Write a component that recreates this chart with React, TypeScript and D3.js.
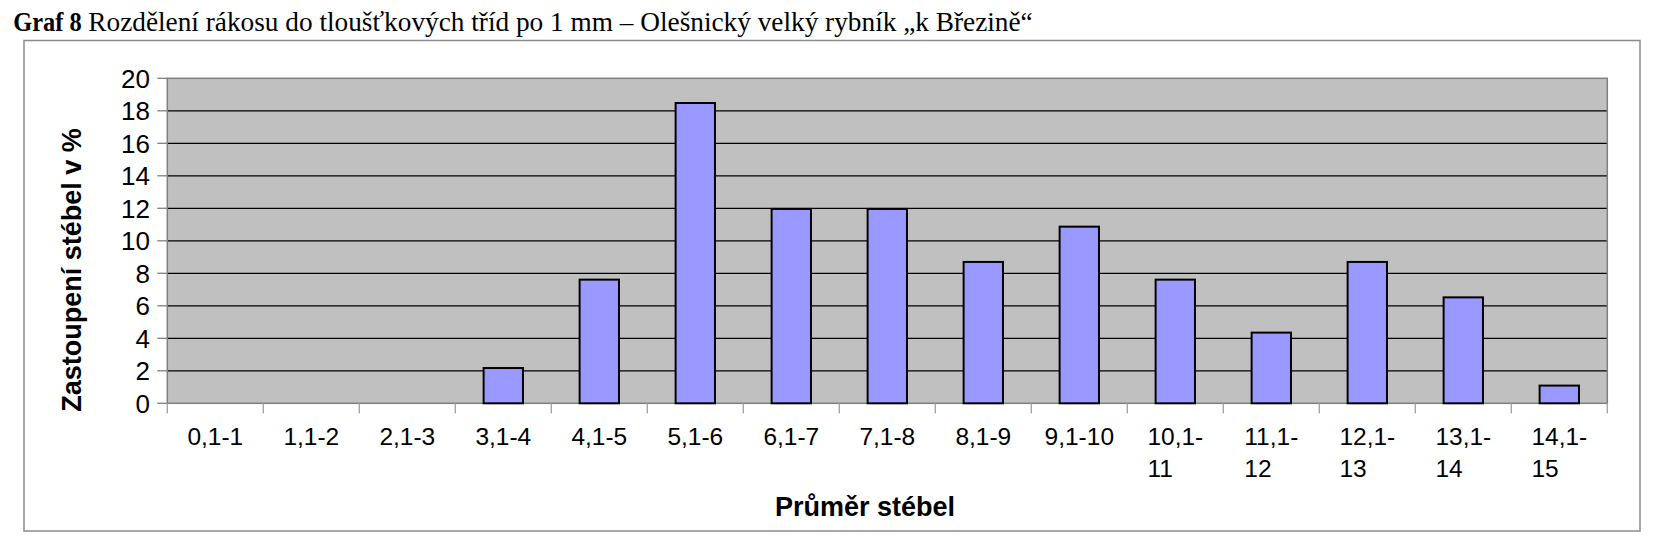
import React, { useEffect, useRef } from "react";
import * as d3 from "d3";

const categories = [
  "0,1-1", "1,1-2", "2,1-3", "3,1-4", "4,1-5", "5,1-6", "6,1-7", "7,1-8",
  "8,1-9", "9,1-10", "10,1-11", "11,1-12", "12,1-13", "13,1-14", "14,1-15",
];
const labelLines = [
  ["0,1-1"], ["1,1-2"], ["2,1-3"], ["3,1-4"], ["4,1-5"], ["5,1-6"], ["6,1-7"], ["7,1-8"],
  ["8,1-9"], ["9,1-10"], ["10,1-", "11"], ["11,1-", "12"], ["12,1-", "13"], ["13,1-", "14"], ["14,1-", "15"],
];
const values = [0, 0, 0, 2.17, 7.61, 18.48, 11.96, 11.96, 8.7, 10.87, 7.61, 4.35, 8.7, 6.52, 1.09];
const yTicks = [0, 2, 4, 6, 8, 10, 12, 14, 16, 18, 20];

const titleBold = "Graf 8";
const titleRest = "Rozdělení rákosu do tloušťkových tříd po 1 mm – Olešnický velký rybník „k Březině“";
const yTitle = "Zastoupení stébel v %";
const xTitle = "Průměr stébel";

const W = 1668, H = 551;
const PL = 167.3, PR = 1607.3, PT = 78.3, PB = 403.3;

export default function App() {
  const ref = useRef<SVGSVGElement>(null);
  useEffect(() => {
    const svg = d3.select(ref.current);
    svg.selectAll("*").remove();

    const x = d3.scaleBand<string>().domain(categories).range([PL, PR]).padding(0);
    const y = d3.scaleLinear().domain([0, 20]).range([PB, PT]);
    const bw = x.bandwidth();

    // outer frame
    svg.append("rect").attr("x", 24).attr("y", 40.5).attr("width", 1616).attr("height", 490.5)
      .attr("fill", "none").attr("stroke", "#8c8c8c").attr("stroke-width", 1.5);

    // title
    svg.append("text").attr("x", 13.3).attr("y", 30.5)
      .attr("font-family", "'Liberation Serif', 'Times New Roman', serif")
      .attr("font-size", 26.5).attr("font-weight", "bold")
      .attr("textLength", 68.4).attr("lengthAdjust", "spacingAndGlyphs")
      .text(titleBold);
    svg.append("text").attr("x", 88.3).attr("y", 30.5)
      .attr("font-family", "'Liberation Serif', 'Times New Roman', serif")
      .attr("font-size", 26.5)
      .attr("textLength", 944.4).attr("lengthAdjust", "spacingAndGlyphs")
      .text(titleRest);

    // plot background
    svg.append("rect").attr("x", PL).attr("y", PT).attr("width", PR - PL).attr("height", PB - PT)
      .attr("fill", "#c0c0c0");

    // gridlines
    svg.append("g").selectAll("line").data(yTicks.filter(t => t > 0 && t < 20)).join("line")
      .attr("x1", PL).attr("x2", PR).attr("y1", d => y(d)).attr("y2", d => y(d))
      .attr("stroke", "#000").attr("stroke-width", 1.3);

    // plot border
    svg.append("rect").attr("x", PL).attr("y", PT).attr("width", PR - PL).attr("height", PB - PT)
      .attr("fill", "none").attr("stroke", "#808080").attr("stroke-width", 1.5);

    // bars
    svg.append("g").selectAll("rect").data(values.map((v, i) => ({ v, c: categories[i] })).filter(d => d.v > 0))
      .join("rect")
      .attr("x", d => (x(d.c) as number) + bw * 0.295)
      .attr("width", bw * 0.41)
      .attr("y", d => y(d.v))
      .attr("height", d => y(0) - y(d.v))
      .attr("fill", "#9999ff").attr("stroke", "#000").attr("stroke-width", 2);

    // y ticks
    const yg = svg.append("g");
    yg.selectAll("line").data(yTicks).join("line")
      .attr("x1", PL - 10).attr("x2", PL).attr("y1", d => y(d)).attr("y2", d => y(d))
      .attr("stroke", "#808080").attr("stroke-width", 1.3);
    yg.selectAll("text").data(yTicks).join("text")
      .attr("x", 150).attr("y", d => y(d) + 9.2)
      .attr("text-anchor", "end")
      .attr("font-family", "'Liberation Sans', Arial, sans-serif").attr("font-size", 26)
      .text(d => String(d));

    // x ticks
    const bounds = categories.map(c => x(c) as number).concat([PR]);
    svg.append("g").selectAll("line").data(bounds).join("line")
      .attr("x1", d => d).attr("x2", d => d).attr("y1", PB).attr("y2", PB + 10)
      .attr("stroke", "#a0a0a0").attr("stroke-width", 1.3);

    // x labels
    const xl = svg.append("g")
      .attr("font-family", "'Liberation Sans', Arial, sans-serif").attr("font-size", 24.5);
    labelLines.forEach((lines, i) => {
      const cx = (x(categories[i]) as number) + bw / 2;
      const t1 = xl.append("text").attr("x", cx).attr("y", 445).attr("text-anchor", "middle").text(lines[0]);
      if (lines.length > 1) {
        const w = (t1.node() as SVGTextElement).getComputedTextLength();
        xl.append("text").attr("x", cx - w / 2).attr("y", 476.7).attr("text-anchor", "start").text(lines[1]);
      }
    });

    // axis titles
    svg.append("text").attr("x", 865).attr("y", 516).attr("text-anchor", "middle")
      .attr("font-family", "'Liberation Sans', Arial, sans-serif").attr("font-size", 27).attr("font-weight", "bold")
      .text(xTitle);
    svg.append("text").attr("transform", "translate(81,270) rotate(-90)").attr("text-anchor", "middle")
      .attr("font-family", "'Liberation Sans', Arial, sans-serif").attr("font-size", 27).attr("font-weight", "bold")
      .text(yTitle);
  }, []);

  return (
    <div style={{ position: "absolute", left: 0, top: 0 }}>
      <svg ref={ref} width={W} height={H} style={{ display: "block", background: "#fff" }} />
    </div>
  );
}
